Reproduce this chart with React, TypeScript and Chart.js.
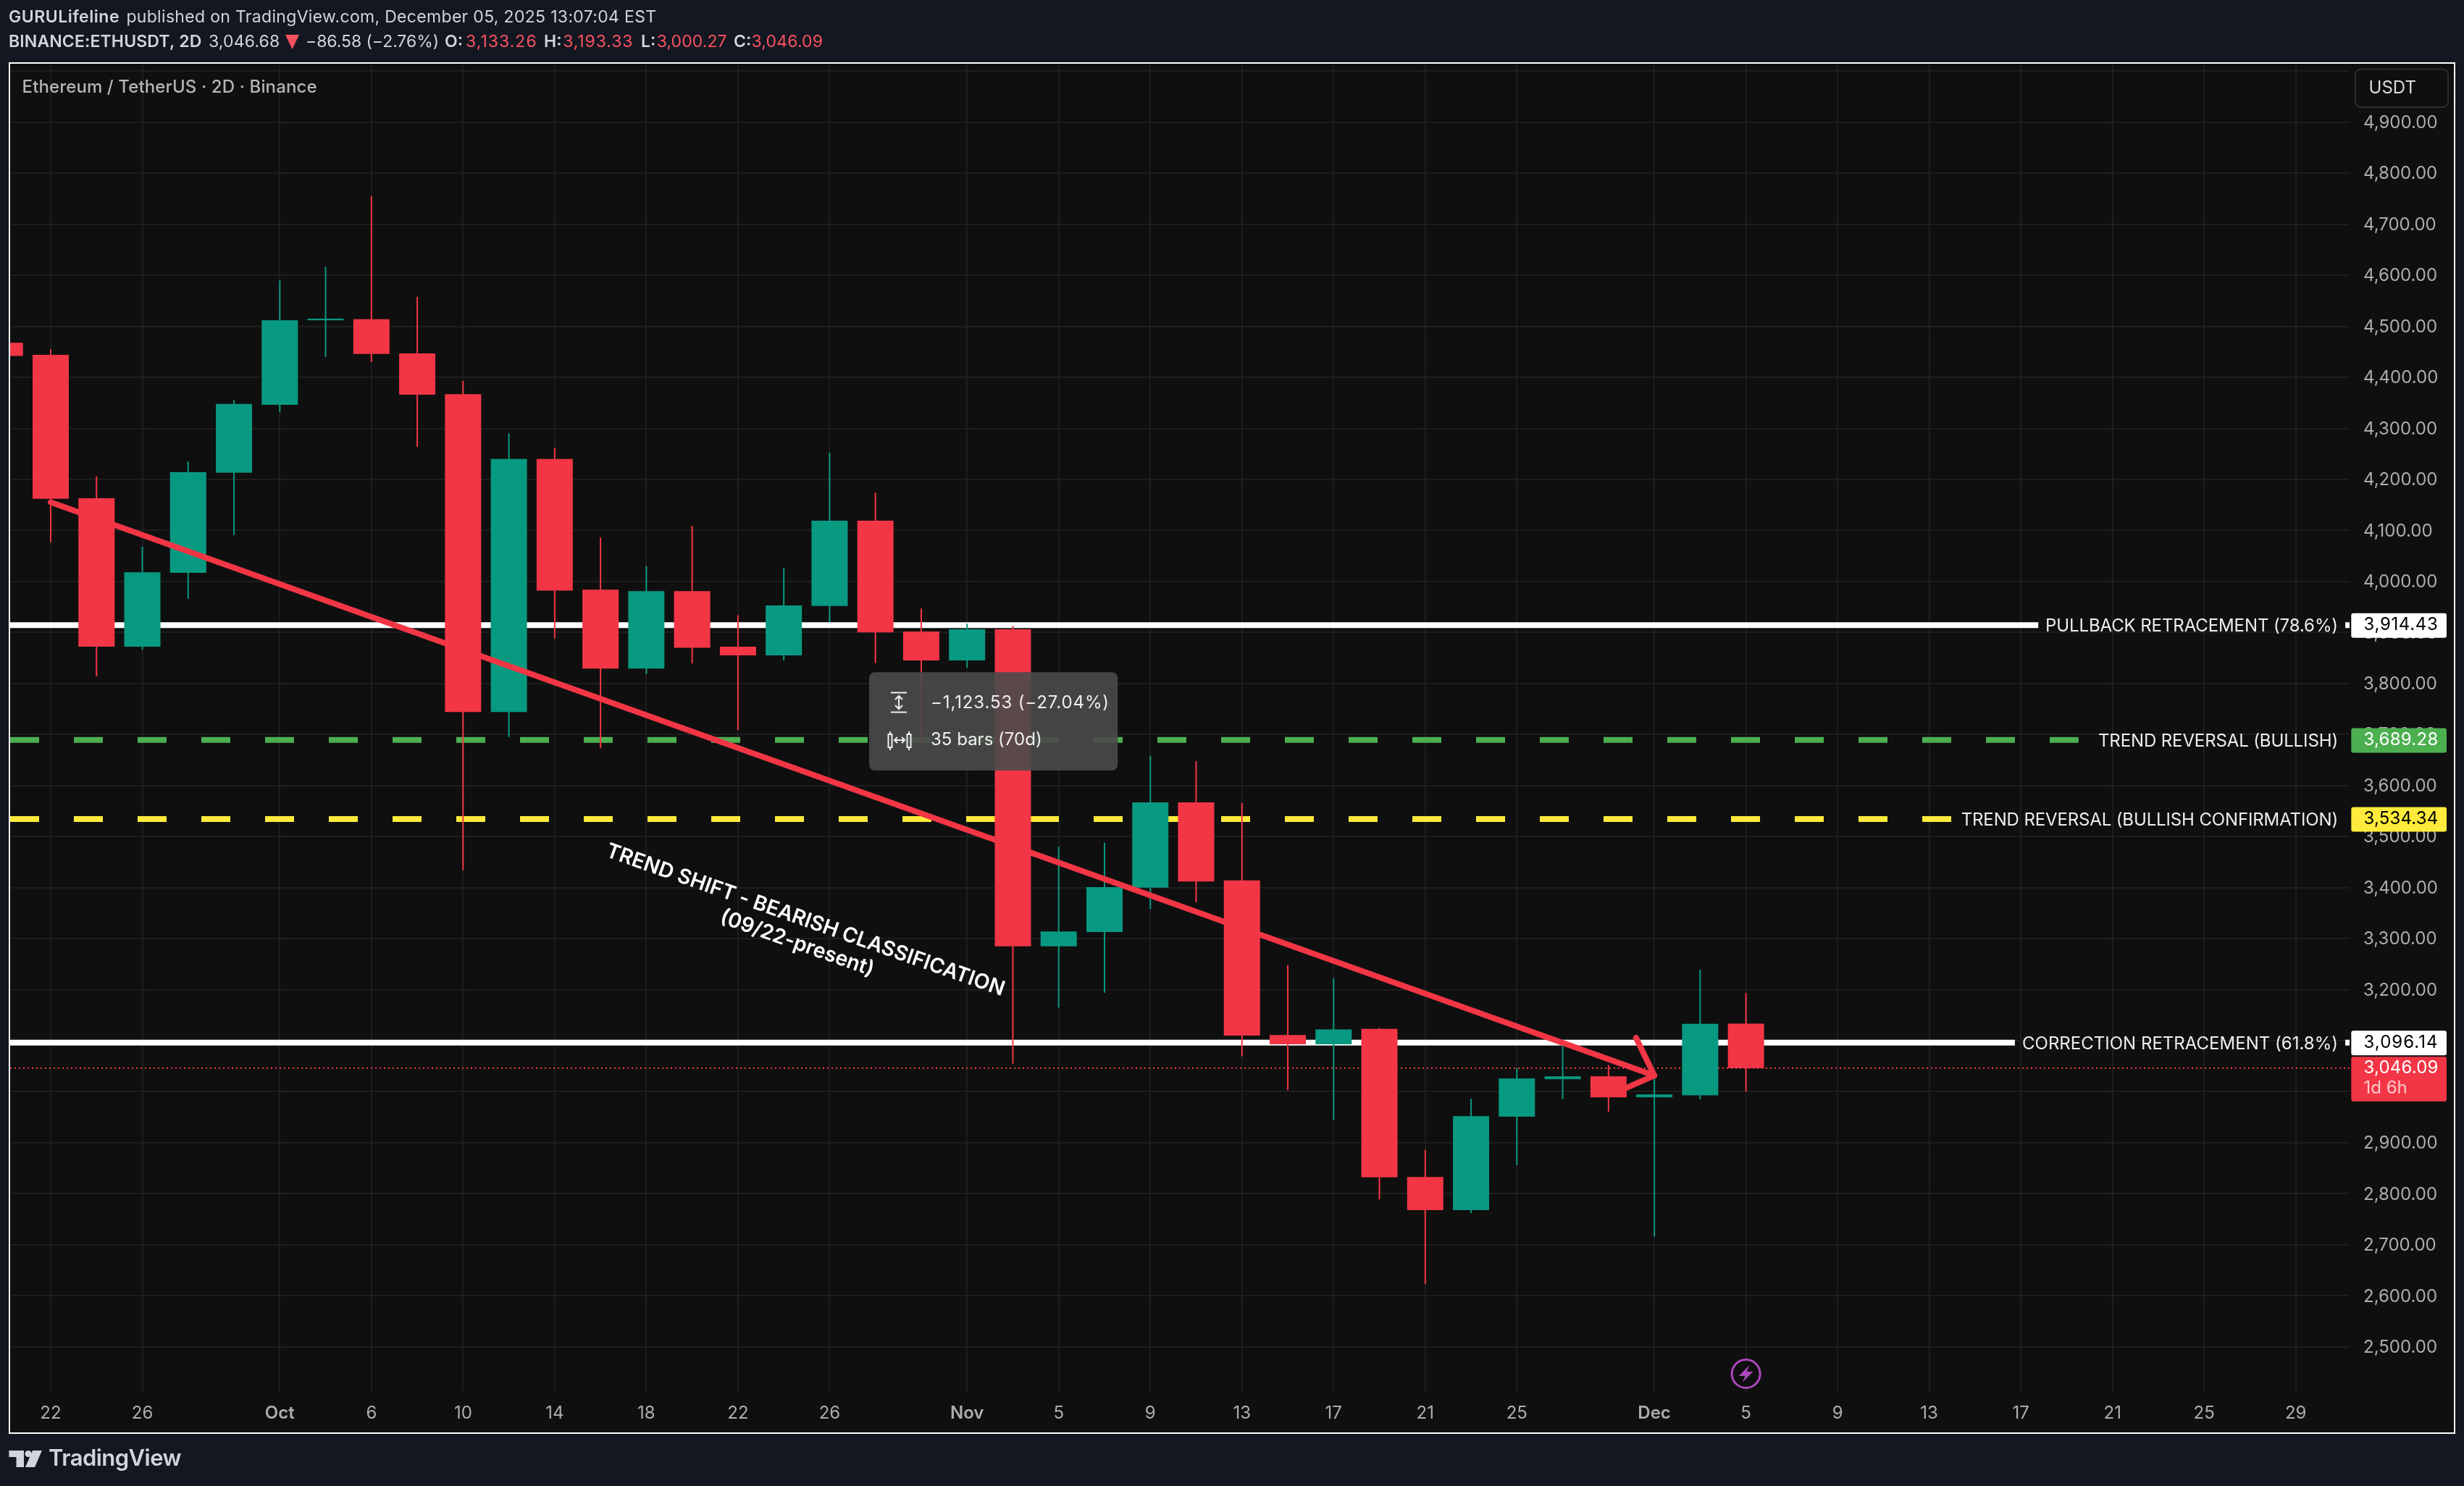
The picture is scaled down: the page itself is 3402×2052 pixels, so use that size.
import { useEffect, useRef } from "react";
import { Chart, registerables } from "chart.js";

Chart.register(...registerables);

// OHLC, first bar starts left of the visible pane (bar index -1)
const opens = [4468, 4444, 4163, 3872, 4017, 4213, 4346, 4512, 4514, 4447, 4367, 3744, 4240, 3984, 3829, 3981, 3872, 3855, 3952, 4119, 3902, 3845, 3906, 3285, 3313, 3400, 3567, 3414, 3111, 3093, 3123, 2833, 2768, 2951, 3024.5, 3030, 2989, 2993, 3133.26];
const highs = [4481, 4455, 4206, 4068, 4235, 4355, 4590, 4617, 4755, 4558, 4393, 4290, 4262, 4086, 4030, 4109, 3934, 4026, 4252, 4174, 3947, 3917, 3913, 3480, 3488, 3658, 3648, 3566, 3248, 3222, 3125, 2886, 2986, 3046, 3092, 3052, 3029, 3239, 3193.33];
const lows = [4432, 4077, 3814, 3866, 3966, 4091, 4332, 4440, 4430, 4264, 3434, 3695, 3888, 3673, 3818, 3839, 3709, 3845, 3920, 3840, 3680, 3831, 3055, 3165, 3194, 3358, 3371, 3069, 3003, 2945, 2789, 2623, 2762, 2856, 2985, 2961, 2716, 2985, 3000.27];
const closes = [4442, 4162, 3872, 4018, 4214, 4348, 4512, 4515, 4446, 4366, 3744, 4240, 3982, 3829, 3981, 3870, 3855, 3953, 4119, 3900, 3845, 3906, 3285, 3314, 3401, 3567, 3412, 3110, 3093, 3122, 2832, 2768, 2952, 3026, 3030, 2989, 2994.6, 3133, 3046.09];
const barIndex = opens.map((_, i) => i - 1);

const xTickBars = [0, 2, 5, 7, 9, 11, 13, 15, 17, 20, 22, 24, 26, 28, 30, 32, 35, 37, 39, 41, 43, 45, 47, 49];
const xTickLabels = ["22", "26", "Oct", "6", "10", "14", "18", "22", "26", "Nov", "5", "9", "13", "17", "21", "25", "Dec", "5", "9", "13", "17", "21", "25", "29"];
const monthLabels = ["Oct", "Nov", "Dec"];
const yTicks = [2500, 2600, 2700, 2800, 2900, 3000, 3100, 3200, 3300, 3400, 3500, 3600, 3700, 3800, 3900, 4000, 4100, 4200, 4300, 4400, 4500, 4600, 4700, 4800, 4900, 5000];

const levelValues = [3914.43, 3689.28, 3534.34, 3096.14];
const levelNames = ["PULLBACK RETRACEMENT (78.6%)", "TREND REVERSAL (BULLISH)", "TREND REVERSAL (BULLISH CONFIRMATION)", "CORRECTION RETRACEMENT (61.8%)"];
const levelNameWidths = [404, 331, 520.3, 436];
const levelEndBars = [43.38, 44.26, 41.48, 42.87];
const levelColors = ["#ffffff", "#4caf50", "#ffeb3b", "#ffffff"];
const chipTextColors = ["#000000", "#ffffff", "#000000", "#000000"];
const lastPrice = 3046.09;

// trend arrow: start, tip and the two barbs, in bars / price
const arrowBars = [0, 35];
const arrowPrices = [4155.1, 3031.6];
const headBars = [34.6, 35, 34.18];
const headPrices = [3105.7, 3031.6, 2999];

const RED = "#f23645";
const GREEN = "#089981";
const TEXT = "#d1d4dc";
const GREY = "#adadad";
const INTER = "Inter, sans-serif";

const X_MIN = -0.8852;
const X_MAX = 50.174;
const Y_MIN = 2412.1;
const Y_MAX = 5013.2;

const candleColors = opens.map((o, i) => (closes[i] >= o ? GREEN : RED));

// draws one string, letter spaced so it comes out at the measured width when one is given
function label(ctx: CanvasRenderingContext2D, s: string, x: number, y: number, font: string, color: string, width?: number, align: CanvasTextAlign = "left") {
  ctx.font = font;
  ctx.fillStyle = color;
  ctx.textAlign = align;
  ctx.textBaseline = "middle";
  (ctx as any).letterSpacing = "0px";
  if (width) {
    const gap = (width - ctx.measureText(s).width) / s.length;
    (ctx as any).letterSpacing = `${gap.toFixed(3)}px`;
  }
  ctx.fillText(s, x, y);
  (ctx as any).letterSpacing = "0px";
}

function roundBox(ctx: CanvasRenderingContext2D, x: number, y: number, w: number, h: number, r: number) {
  ctx.beginPath();
  ctx.roundRect(x, y, w, h, r);
}

const backdrop = {
  id: "backdrop",
  beforeDraw(chart: Chart) {
    const { ctx } = chart;
    ctx.save();
    ctx.fillStyle = "#131722";
    ctx.fillRect(0, 0, 3402, 2052);
    ctx.fillStyle = "#ffffff";
    ctx.fillRect(12, 86, 3378, 1894);
    ctx.fillStyle = "#0f0f0f";
    ctx.fillRect(14, 88, 3374, 1890);
    ctx.restore();
  },
};

const overlay = {
  id: "overlay",
  afterDraw(chart: Chart) {
    const { ctx } = chart;
    const x = chart.scales.x;
    const y = chart.scales.y;
    ctx.save();

    // publication header
    const h = `23px ${INTER}`;
    const hb = `600 23px ${INTER}`;
    const f = `24px ${INTER}`;
    label(ctx, "GURULifeline", 12, 24.5, hb, TEXT, 153);
    label(ctx, "published on TradingView.com, December 05, 2025 13:07:04 EST", 174.4, 24.5, h, TEXT, 732);
    label(ctx, "BINANCE:ETHUSDT, 2D", 12, 58, hb, TEXT, 266.5);
    label(ctx, "3,046.68", 288, 58, h, TEXT, 98.4);
    ctx.fillStyle = "#f7525f";
    ctx.beginPath();
    ctx.moveTo(394, 48);
    ctx.lineTo(413, 48);
    ctx.lineTo(403.5, 68);
    ctx.fill();
    label(ctx, "\u221286.58 (\u22122.76%)", 422, 58, h, TEXT, 184);
    const ohlcHead = ["O:", "H:", "L:", "C:"];
    const ohlcHeadX = [614, 751, 885, 1013];
    const ohlcVal = ["3,133.26", "3,193.33", "3,000.27", "3,046.09"];
    const ohlcValX = [643, 777.3, 906.7, 1037.5];
    const ohlcValW = [98.7, 97, 97, 98.7];
    ohlcHead.forEach((s, i) => {
      label(ctx, s, ohlcHeadX[i], 58, hb, TEXT);
      label(ctx, ohlcVal[i], ohlcValX[i], 58, h, "#f7525f", ohlcValW[i]);
    });

    // pane title and currency box
    label(ctx, "Ethereum / TetherUS \u00b7 2D \u00b7 Binance", 30.6, 120.5, `500 24px ${INTER}`, "#b5b5b5", 407);
    roundBox(ctx, 3252, 95.5, 128, 52.5, 8);
    ctx.fillStyle = "#0f0f0f";
    ctx.fill();
    ctx.strokeStyle = "#2e2e2e";
    ctx.lineWidth = 2;
    ctx.stroke();
    label(ctx, "USDT", 3270.6, 122, f, "#dbdbdb");

    // level captions and price chips
    levelValues.forEach((v, i) => {
      const py = y.getPixelForValue(v) + 0.6;
      label(ctx, levelNames[i], 3228 - levelNameWidths[i], py + 1, f, "#eeeeee", levelNameWidths[i]);
      roundBox(ctx, 3246.3, py - 17, 131.7, 34, 3);
      ctx.fillStyle = levelColors[i];
      ctx.fill();
      label(ctx, v.toLocaleString("en-US", { minimumFractionDigits: 2 }), 3263.5, py - 1, f, chipTextColors[i], 103);
    });
    roundBox(ctx, 3246.3, 1459.2, 131.7, 61.8, 3);
    ctx.fillStyle = RED;
    ctx.fill();
    label(ctx, "3,046.09", 3263.5, 1474.5, f, "#ffffff", 103);
    label(ctx, "1d 6h", 3263.5, 1503, f, "rgba(255,255,255,0.72)");

    // measure tooltip
    roundBox(ctx, 1200, 928.2, 343.2, 135.8, 8);
    ctx.fillStyle = "rgba(74,74,74,0.9)";
    ctx.fill();
    ctx.strokeStyle = "#f0f0f0";
    ctx.lineWidth = 2;
    ctx.beginPath();
    ctx.moveTo(1230, 956.5);
    ctx.lineTo(1252, 956.5);
    ctx.moveTo(1230, 983.5);
    ctx.lineTo(1252, 983.5);
    ctx.moveTo(1241, 961);
    ctx.lineTo(1241, 979);
    ctx.moveTo(1236, 966);
    ctx.lineTo(1241, 961);
    ctx.lineTo(1246, 966);
    ctx.moveTo(1236, 974);
    ctx.lineTo(1241, 979);
    ctx.lineTo(1246, 974);
    ctx.moveTo(1229, 1010);
    ctx.lineTo(1229, 1014);
    ctx.moveTo(1229, 1032);
    ctx.lineTo(1229, 1036);
    ctx.moveTo(1255, 1010);
    ctx.lineTo(1255, 1014);
    ctx.moveTo(1255, 1032);
    ctx.lineTo(1255, 1036);
    ctx.moveTo(1235, 1022);
    ctx.lineTo(1249, 1022);
    ctx.moveTo(1239, 1018);
    ctx.lineTo(1235, 1022);
    ctx.lineTo(1239, 1026);
    ctx.moveTo(1245, 1018);
    ctx.lineTo(1249, 1022);
    ctx.lineTo(1245, 1026);
    ctx.stroke();
    ctx.strokeRect(1226.5, 1014, 5, 18);
    ctx.strokeRect(1252.5, 1014, 5, 18);
    label(ctx, "\u22121,123.53 (\u221227.04%)", 1285, 970.3, f, "#eeeeee", 247);
    label(ctx, "35 bars (70d)", 1285, 1022, f, "#eeeeee", 153.7);

    // slanted annotation
    ctx.save();
    ctx.translate(x.getPixelForValue(16.47), y.getPixelForValue(3336));
    ctx.rotate((19.4 * Math.PI) / 180);
    label(ctx, "TREND SHIFT - BEARISH CLASSIFICATION", 0, 0, `600 28.5px ${INTER}`, "#ffffff", undefined, "center");
    label(ctx, "(09/22-present)", 0, 34, `600 28.5px ${INTER}`, "#ffffff", undefined, "center");
    ctx.restore();

    // news marker under the last bar
    const mx = x.getPixelForValue(37);
    ctx.beginPath();
    ctx.arc(mx, 1897, 19.5, 0, Math.PI * 2);
    ctx.fillStyle = "#0f0f0f";
    ctx.fill();
    ctx.strokeStyle = "#ab47bc";
    ctx.lineWidth = 3;
    ctx.stroke();
    ctx.fillStyle = "#ab47bc";
    ctx.beginPath();
    ctx.moveTo(mx + 5, 1885);
    ctx.lineTo(mx - 10, 1900);
    ctx.lineTo(mx - 1, 1900);
    ctx.lineTo(mx - 5, 1909);
    ctx.lineTo(mx + 10, 1894);
    ctx.lineTo(mx + 1, 1894);
    ctx.closePath();
    ctx.fill();

    // footer logo
    ctx.fillStyle = TEXT;
    ctx.fillRect(12.4, 2003, 20.6, 9);
    ctx.fillRect(22.5, 2012, 10.5, 14);
    ctx.beginPath();
    ctx.arc(39, 2007.5, 4.5, 0, Math.PI * 2);
    ctx.fill();
    ctx.beginPath();
    ctx.moveTo(45, 2003);
    ctx.lineTo(58, 2003);
    ctx.lineTo(48, 2026);
    ctx.lineTo(35, 2026);
    ctx.closePath();
    ctx.fill();
    label(ctx, "TradingView", 67, 2015, `600 31px ${INTER}`, TEXT, 183);

    ctx.restore();
  },
};

function hLine(value: number, endBar: number, color: string, width: number, dash: number[], order: number) {
  return {
    type: "line" as const,
    data: [
      { x: X_MIN, y: value },
      { x: endBar, y: value },
    ],
    borderColor: color,
    borderWidth: width,
    borderDash: dash,
    pointRadius: 0,
    order,
  };
}

export default function App() {
  const canvasRef = useRef<HTMLCanvasElement | null>(null);

  useEffect(() => {
    document.body.style.margin = "0";
    document.body.style.background = "#131722";
    const canvas = canvasRef.current;
    if (!canvas) return;

    const levelSets = levelValues.map((v, i) => hLine(v, levelEndBars[i], levelColors[i], 8, i === 1 || i === 2 ? [40, 48] : [], 4));
    const stubs = [levelValues[0], levelValues[3]].map((v) => ({
      type: "line" as const,
      data: [
        { x: 50.08, y: v },
        { x: X_MAX, y: v },
      ],
      borderColor: "#ffffff",
      borderWidth: 8,
      pointRadius: 0,
      order: 4,
    }));

    const chart = new Chart(canvas, {
      type: "bar",
      data: {
        datasets: [
          ...levelSets,
          ...stubs,
          hLine(lastPrice, X_MAX, RED, 2, [2, 4], 4),
          {
            type: "bar" as const,
            label: "wicks",
            data: barIndex.map((b, i) => ({ x: b, y: [lows[i], highs[i]] })),
            backgroundColor: candleColors,
            barThickness: 2,
            grouped: false,
            inflateAmount: 0,
            order: 3,
          },
          {
            type: "bar" as const,
            label: "bodies",
            data: barIndex.map((b, i) => ({ x: b, y: [opens[i], closes[i]] })),
            backgroundColor: candleColors,
            barThickness: 50,
            grouped: false,
            inflateAmount: 0,
            order: 2,
          },
          {
            type: "line" as const,
            data: arrowBars.map((b, i) => ({ x: b, y: arrowPrices[i] })),
            borderColor: RED,
            borderWidth: 8,
            borderCapStyle: "round",
            pointRadius: 0,
            order: 1,
          },
          {
            type: "line" as const,
            data: headBars.map((b, i) => ({ x: b, y: headPrices[i] })),
            borderColor: RED,
            borderWidth: 8,
            borderCapStyle: "round",
            borderJoinStyle: "round",
            pointRadius: 0,
            order: 0,
          },
        ] as any,
      },
      options: {
        responsive: false,
        animation: false,
        devicePixelRatio: 1,
        events: [],
        layout: { padding: { left: 14, top: 89, right: 0, bottom: 0 } },
        plugins: { legend: { display: false }, tooltip: { enabled: false } },
        scales: {
          x: {
            type: "linear",
            min: X_MIN,
            max: X_MAX,
            offset: false,
            afterBuildTicks: (scale: any) => {
              scale.ticks = xTickBars.map((value) => ({ value }));
            },
            afterFit: (scale: any) => {
              scale.height = 130.3;
            },
            grid: { color: "#1e1e1e", lineWidth: 2, offset: false, drawTicks: false },
            border: { display: false },
            ticks: {
              autoSkip: false,
              maxRotation: 0,
              padding: 16,
              color: GREY,
              callback: (value: any) => xTickLabels[xTickBars.indexOf(value)],
              font: (c: any) => ({
                family: INTER,
                size: 24,
                weight: monthLabels.includes(xTickLabels[xTickBars.indexOf(c.tick?.value)]) ? 600 : 400,
              }),
            },
          },
          y: {
            type: "linear",
            position: "right",
            min: Y_MIN,
            max: Y_MAX,
            afterBuildTicks: (scale: any) => {
              scale.ticks = yTicks.map((value) => ({ value }));
            },
            afterFit: (scale: any) => {
              scale.width = 158;
            },
            grid: { color: "#1e1e1e", lineWidth: 2, drawTicks: false },
            border: { display: false },
            ticks: {
              padding: 19,
              labelOffset: 1,
              color: GREY,
              crossAlign: "near",
              font: { family: INTER, size: 24 },
              // 5,000 only has a grid line, the currency box sits over its label
              callback: (value: any) => (value >= 5000 ? "" : Number(value).toLocaleString("en-US", { minimumFractionDigits: 2 })),
            },
          },
        },
      } as any,
      plugins: [backdrop, overlay],
    });

    return () => chart.destroy();
  }, []);

  return <canvas ref={canvasRef} width={3402} height={2052} style={{ display: "block" }} />;
}
